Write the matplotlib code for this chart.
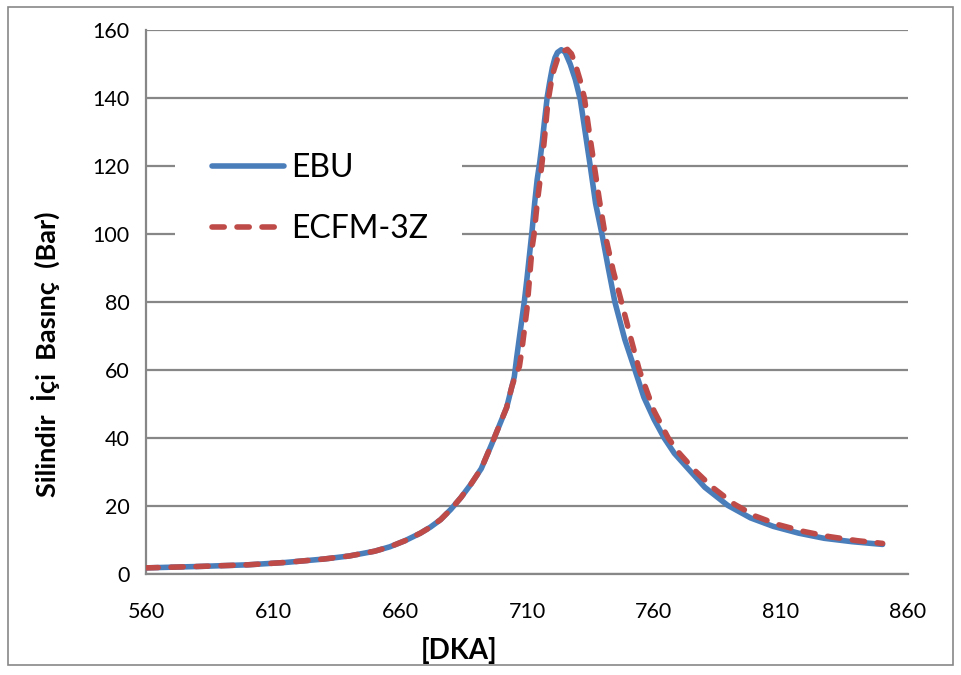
import matplotlib
matplotlib.use("Agg")
import matplotlib.pyplot as plt
from matplotlib.patches import Rectangle

# Crank angle [deg] and in-cylinder pressure [bar]
ebu_deg = [560, 580, 600, 615, 630, 640, 650, 656, 662, 668, 672, 676, 680, 684, 688,
           692, 696, 699, 702, 704, 705, 706, 707, 708, 709, 710, 711, 712, 713, 714,
           715, 716, 717, 718, 719, 720, 721, 722, 723.5, 725, 727, 729, 731, 733, 735,
           737, 739.5, 742, 744.6, 748.5, 752.5, 756, 760, 764, 768, 774, 780, 789, 798,
           807, 817, 827, 838, 850]
ebu_bar = [1.8, 2.2, 2.7, 3.4, 4.4, 5.3, 6.7, 8.0, 9.8, 12.0, 13.8, 16.0, 19.0, 22.5, 26.5,
           31.0, 38.0, 43.5, 49.0, 55.0, 58.0, 64.0, 69.5, 75.0, 80.5, 87.0, 94.0, 101.0, 109.0, 116.0,
           121.0, 127.0, 134.0, 140.5, 145.0, 149.0, 151.8, 153.4, 154.2, 153.5, 150.0, 145.5, 139.5, 129.5, 119.5,
           109.0, 100.0, 90.0, 80.0, 69.0, 60.0, 52.0, 45.5, 40.0, 35.5, 30.5, 25.5, 20.2, 16.5,
           14.0, 12.0, 10.5, 9.5, 8.7]

ecfm_deg = [560, 580, 600, 615, 630, 640, 650, 656, 662, 668, 672, 676, 680, 684, 688,
            692, 696, 699, 702, 704, 705.5, 707, 708, 709, 710, 711, 712, 712.8, 714, 715,
            716, 717, 718, 718.5, 719.5, 720.5, 722, 723.5, 725.9, 727.5, 729, 731, 732.6, 734.5,
            736.5, 738.5, 740.7, 744, 747.2, 751, 754.2, 760, 765.6, 770, 776, 783, 791.7, 800,
            809, 819, 829, 840, 850]
ecfm_bar = [1.8, 2.2, 2.7, 3.4, 4.4, 5.3, 6.7, 8.0, 9.8, 12.0, 13.8, 16.0, 19.0, 22.5, 26.5,
            31.0, 38.0, 43.5, 49.0, 55.0, 58.5, 61.0, 66.0, 72.0, 78.0, 87.0, 96.0, 100.0, 109.0, 115.0,
            121.5, 129.0, 137.0, 140.0, 144.5, 148.0, 151.5, 153.5, 154.3, 153.0, 150.0, 145.0, 140.0, 130.0,
            120.0, 110.0, 100.0, 89.0, 80.0, 69.0, 60.0, 48.0, 40.0, 35.5, 30.5, 25.5, 20.5, 17.0,
            14.5, 12.5, 11.0, 9.8, 9.0]

x_ticks = [560, 610, 660, 710, 760, 810, 860]
y_ticks = [0, 20, 40, 60, 80, 100, 120, 140, 160]

plt.rcParams['font.family'] = ['Lato', 'DejaVu Sans']

fig = plt.figure(figsize=(9.61, 6.75), dpi=100)
ax = fig.add_axes([146 / 961, 1 - 574 / 675, 762 / 961, 544 / 675])

grid_col = '#878787'
ax.set_xlim(560, 860)
ax.set_ylim(0, 160)
ax.set_xticks(x_ticks)
ax.set_yticks(y_ticks)
ax.yaxis.grid(True, color=grid_col, linewidth=1.6)
ax.set_axisbelow(True)
for s in ['top', 'right']:
    ax.spines[s].set_visible(False)
for s in ['left', 'bottom']:
    ax.spines[s].set_color(grid_col)
    ax.spines[s].set_linewidth(1.6)
ax.tick_params(axis='both', length=0, labelsize=15.5)
ax.tick_params(axis='y', pad=12)
ax.tick_params(axis='x', pad=20)

ax.plot(ebu_deg, ebu_bar, color='#4A7EBB', linewidth=4.0,
        solid_capstyle='round', solid_joinstyle='round', label='EBU', zorder=3)
ax.plot(ecfm_deg, ecfm_bar, color='#BE4B48', linewidth=4.0, linestyle=(0, (2.2, 2.3)),
        dash_capstyle='round', label='ECFM-3Z', zorder=4)

# white background behind the legend entries (hides the grid there)
ax.add_patch(Rectangle((0.038, 0.559), 0.377, 0.257, transform=ax.transAxes,
                       facecolor='white', edgecolor='none', zorder=1.5))

leg = ax.legend(loc='center left', bbox_to_anchor=(0.0866, 0.690), frameon=False,
                fontsize=23, handlelength=2.25, handletextpad=0.22, labelspacing=0.95,
                borderpad=0, borderaxespad=0)

fig.text(45 / 961, 1 - 354 / 675, 'Silindir  İçi  Basınç  (Bar)', rotation=90,
         ha='center', va='center', fontsize=19.5, fontweight='bold')
fig.text(459 / 961, 1 - 650 / 675, '[DKA]', ha='center', va='center',
         fontsize=20, fontweight='bold')

# outer chart border
fig.patches.append(Rectangle((8 / 961, 1 - 665 / 675), 945 / 961, 658 / 675,
                             transform=fig.transFigure, fill=False,
                             edgecolor='#878787', linewidth=1.2))

fig.savefig('out.png', dpi=100)
